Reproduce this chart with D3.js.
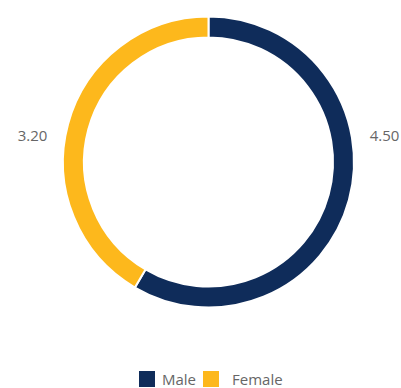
<!DOCTYPE html>
<html>
<head>
<meta charset="utf-8">
<script src="https://cdn.jsdelivr.net/npm/d3@7"></script>
<style>
  html, body { margin: 0; padding: 0; background: #fff; }
  svg { display: block; font-family: "Open Sans", "Segoe UI", sans-serif; }
</style>
</head>
<body>
<svg id="chart" width="401" height="388"></svg>
<script>
// Series: category names, values and colours
const categories = ["Male", "Female"];
const values = [4.50, 3.20];
const colors = ["#0f2c5a", "#fdb81c"];
const valueLabels = ["4.50", "3.20"];

const width = 401, height = 388;
const cx = 208.5, cy = 162;
const outerR = 145.5, innerR = 124.5;

const svg = d3.select("#chart");

const data = categories.map((c, i) => ({ name: c, value: values[i], color: colors[i], label: valueLabels[i] }));

const pie = d3.pie().sort(null).value(d => d.value);
const arc = d3.arc().innerRadius(innerR).outerRadius(outerR);

const g = svg.append("g").attr("transform", `translate(${cx},${cy})`);

const arcs = pie(data);

g.selectAll("path")
  .data(arcs)
  .join("path")
  .attr("d", arc)
  .attr("fill", d => d.data.color)
  .attr("stroke", "#fff")
  .attr("stroke-width", 2);

// Value labels sit beside the ring, right for the first slice, left for the second
const labelOffset = outerR + 30.5;
g.selectAll("text.val")
  .data(arcs)
  .join("text")
  .attr("class", "val")
  .attr("x", d => ((d.startAngle + d.endAngle) / 2 < Math.PI ? 1 : -1) * labelOffset)
  .attr("y", -21)
  .attr("text-anchor", "middle")
  .attr("font-size", 15)
  .attr("fill", "#666")
  .text(d => d.data.label);

// Legend
const legend = svg.append("g").attr("transform", "translate(139,371)");
const legendX = [0, 64];
const textX = [23, 29];
const items = legend.selectAll("g")
  .data(data)
  .join("g")
  .attr("transform", (d, i) => `translate(${legendX[i]},0)`);
items.append("rect")
  .attr("width", 16).attr("height", 16)
  .attr("fill", d => d.color);
items.append("text")
  .attr("x", (d, i) => textX[i]).attr("y", 14)
  .attr("font-size", 15)
  .attr("fill", "#666")
  .text(d => d.name);
</script>
</body>
</html>
